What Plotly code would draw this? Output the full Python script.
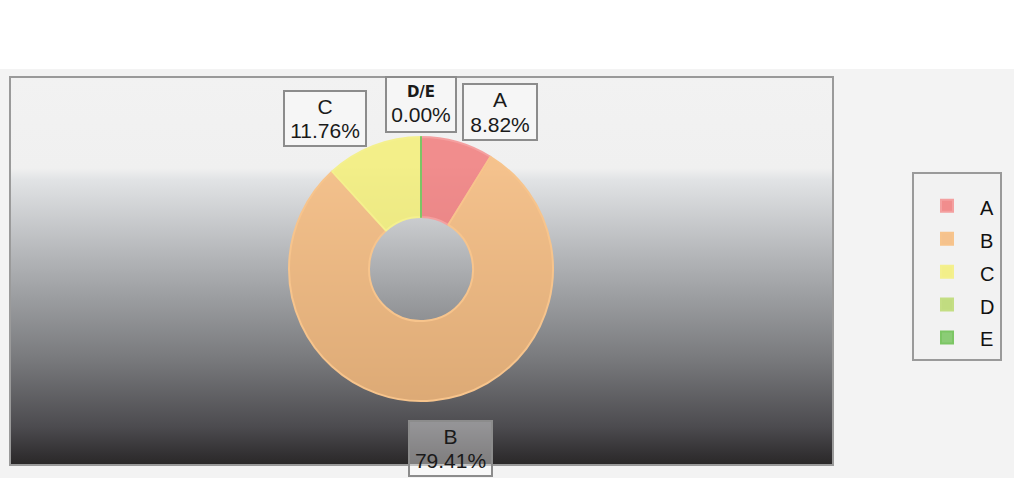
import plotly.graph_objects as go

# ---- data ----
categories = ["A", "B", "C", "D", "E"]
percent_values = [8.82, 79.41, 11.76, 0.00, 0.00]
slice_colors = ["rgba(240,126,126,0.88)", "rgba(245,185,122,0.84)", "rgba(242,238,122,0.88)",
                "rgba(186,216,112,0.88)", "rgba(128,200,104,0.9)"]
slice_lines = ["#f4a0a0", "#f7c48c", "#f4f08e", "#c4de84", "#7cc664"]

W, H = 1014, 478
fig = go.Figure()

# gradient background of the chart box
fig.add_trace(go.Scatter(
    x=[10, 833, 833, 10, 10], y=[77, 77, 465, 465, 77],
    mode="lines", line=dict(width=0), fill="toself",
    fillgradient=dict(type="vertical", start=77, stop=465, colorscale=[
        [0.0, "#f2f2f2"], [0.235, "#f0f0f0"], [0.265, "#e1e3e5"], [0.472, "#b1b3b6"],
        [0.575, "#9a9c9f"], [0.729, "#78797c"], [0.902, "#4c4b4f"], [0.974, "#323032"],
        [1.0, "#2a2828"]]),
    hoverinfo="skip", showlegend=False))

# legend entries rendered at 20px inside a 23px legend row (for row spacing)
legend_labels = [f"<span style='font-size:20px'>{c}</span>" for c in categories]

# donut
cx, cy, r = 421, 269, 132
fig.add_trace(go.Pie(
    labels=legend_labels, values=percent_values, sort=False, direction="clockwise",
    rotation=0, hole=0.394, textinfo="none", hoverinfo="label+percent",
    marker=dict(colors=slice_colors, line=dict(color=slice_lines, width=2)),
    domain=dict(x=[(cx - r) / W, (cx + r) / W], y=[(H - cy - r) / H, (H - cy + r) / H]),
    showlegend=True))

shapes = [
    dict(type="rect", xref="x", yref="y", x0=0, x1=1014, y0=0, y1=69,
         fillcolor="#ffffff", line=dict(width=0), layer="below"),
    dict(type="rect", xref="x", yref="y", x0=10, x1=833, y0=77, y1=465,
         fillcolor="rgba(0,0,0,0)", line=dict(color="#9a9a9a", width=2), layer="above"),
]

BIG = "<span style='font-size:21px'>{}</span>"

def pct_text(i):
    return f"{percent_values[i]:.2f}%"

annotations = [
    dict(x=325, y=118, text=BIG.format(categories[2]) + "<br>" + BIG.format(pct_text(2)),
         width=76, height=49),
    dict(x=421, y=104,
         text=f"<span style='font-family:DejaVu Sans;font-size:15px'><b>{categories[3]}/{categories[4]}</b></span><br>"
              + BIG.format(pct_text(3)),
         width=64, height=49),
    dict(x=500, y=111.5, text=BIG.format(categories[0]) + "<br>" + BIG.format(pct_text(0)),
         width=68, height=50),
    dict(x=450.5, y=448, text=BIG.format(categories[1]) + "<br>" + BIG.format(pct_text(1)),
         width=77, height=49, bgcolor="rgba(255,255,255,0.4)"),
]
for a in annotations:
    a.update(xref="x", yref="y", xanchor="center", yanchor="middle", showarrow=False,
             font=dict(family="Liberation Sans, Arial", size=19, color="#1a1a1a"),
             bordercolor="#8c8c8c", borderwidth=2, borderpad=2)
    a.setdefault("bgcolor", "#f6f6f6")

fig.update_layout(
    width=W, height=H, margin=dict(l=0, r=0, t=0, b=0),
    paper_bgcolor="#f3f3f3", plot_bgcolor="rgba(0,0,0,0)",
    xaxis=dict(range=[0, W], visible=False, fixedrange=True, domain=[0, 1]),
    yaxis=dict(range=[H, 0], visible=False, fixedrange=True, domain=[0, 1]),
    shapes=shapes, annotations=annotations,
    legend=dict(x=912 / W, y=(H - 172) / H, xanchor="left", yanchor="top",
                bgcolor="#f2f2f2", bordercolor="#9a9a9a", borderwidth=2,
                font=dict(family="Liberation Sans, Arial", size=23, color="#111111"),
                title=dict(text=" ", font=dict(size=8)),
                itemwidth=56, traceorder="normal"),
)

fig.write_html("out.html")
